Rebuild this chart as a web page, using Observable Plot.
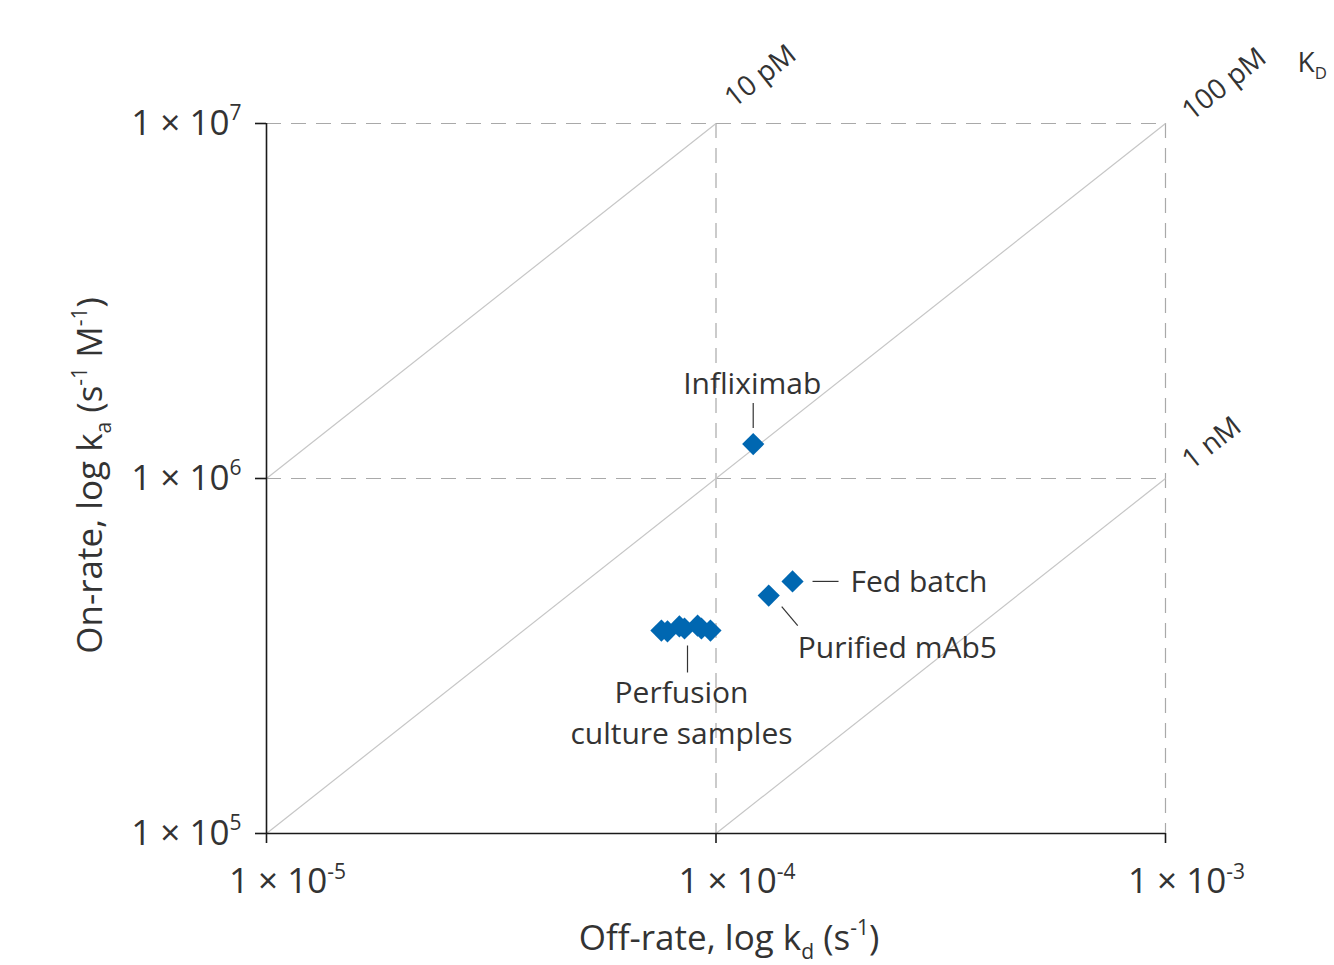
<!DOCTYPE html>
<html><head><meta charset="utf-8">
<script src="https://cdn.jsdelivr.net/npm/d3@7"></script>
<script src="https://cdn.jsdelivr.net/npm/@observablehq/plot@0.6"></script>
<style>body{margin:0;background:#fff;}</style>
</head><body><div id="chart"></div>
<script>
// ---- data ----
const xTicks = [1e-5, 1e-4, 1e-3];
const yTicks = [1e5, 1e6, 1e7];
const xTickLabels = ["1 × 10^{-5}", "1 × 10^{-4}", "1 × 10^{-3}"];
const yTickLabels = ["1 × 10^{5}", "1 × 10^{6}", "1 × 10^{7}"];
const kdValues = [1e-11, 1e-10, 1e-9];
const kdLabels = ["10 pM", "100 pM", "1 nM"];
const sampleNames = ["Infliximab", "Fed batch", "Purified mAb5", "Perfusion", "Perfusion", "Perfusion", "Perfusion", "Perfusion", "Perfusion", "Perfusion"];
const offRates = [1.21e-4, 1.48e-4, 1.31e-4, 7.56e-5, 7.80e-5, 8.29e-5, 8.51e-5, 9.10e-5, 9.28e-5, 9.72e-5];
const onRates  = [1.25e6, 5.13e5, 4.68e5, 3.73e5, 3.71e5, 3.83e5, 3.78e5, 3.85e5, 3.78e5, 3.73e5];
const annotationTexts = ["Infliximab", "Fed batch", "Purified mAb5", "Perfusion\nculture samples"];
const annotationPoint = [0, 1, 2, 6];
const xLabel = "Off-rate, log k_{d} (s^{-1})";
const yLabel = "On-rate, log k_{a} (s^{-1} M^{-1})";
const kdTitle = "K_{D}";

// ---- layout / style ----
const W = 1334, H = 965, mL = 266, mR = 169, mT = 123, mB = 132;
const ink = "#333333";
const blue = "#0067b1";
const xs = Plot.scale({x: {type: "log", domain: [1e-5, 1e-3], range: [mL, W - mR]}});
const ys = Plot.scale({y: {type: "log", domain: [1e5, 1e7], range: [H - mB, mT]}});

// iso-affinity line segments clipped to the domain
const segs = kdValues.map((K, i) => {
  const kd1 = Math.max(1e-5, 1e5 * K), kd2 = Math.min(1e-3, 1e7 * K);
  return {K, label: kdLabels[i], kd1, ka1: kd1 / K, kd2, ka2: kd2 / K};
});

const annoStyle = [
  {dx: -1, dy: -63, anchor: "middle", lead: [[0, -16], [0, -41]]},
  {dx: 58, dy: -2, anchor: "start", lead: [[20, 0], [46, 0]]},
  {dx: 29, dy: 49, anchor: "start", lead: [[13, 11], [29, 30]]},
  {dx: -3, dy: 82, anchor: "middle", lead: [[3, 17], [3, 44]]}
];
const annos = annotationTexts.map((t, k) => ({t, i: annotationPoint[k], ...annoStyle[k]}));
const px = (v, d) => xs.invert(xs.apply(v) + d);
const py = (v, d) => ys.invert(ys.apply(v) + d);

const kdLabelOffsets = [[18, -15], [26, -2], [26, -8]];
const slope = -Math.atan((ys.apply(1e5) - ys.apply(1e6)) / (xs.apply(1e-4) - xs.apply(1e-5))) * 180 / Math.PI;

const chart = Plot.plot({
  width: W, height: H,
  marginLeft: mL, marginRight: mR, marginTop: mT, marginBottom: mB,
  x: {type: "log", domain: [1e-5, 1e-3]},
  y: {type: "log", domain: [1e5, 1e7]},
  style: {fontFamily: "'Open Sans', sans-serif", fontSize: "30px", color: ink, background: "#fff", overflow: "visible"},
  marks: [
    Plot.ruleX([1e-4, 1e-3], {stroke: "#a9a9a9", strokeWidth: 1.2, strokeDasharray: "15,10"}),
    Plot.ruleY([1e6, 1e7], {stroke: "#a9a9a9", strokeWidth: 1.2, strokeDasharray: "15,10"}),
    Plot.link(segs, {x1: "kd1", y1: "ka1", x2: "kd2", y2: "ka2", stroke: "#c6c6c6", strokeWidth: 1.2}),
    Plot.ruleX([1e-5], {stroke: "#1a1a1a", strokeWidth: 1.6}),
    Plot.ruleY([1e5], {stroke: "#1a1a1a", strokeWidth: 1.6}),
    Plot.axisX({ticks: xTicks, tickSize: 10, tickPadding: 25, fontSize: 35, stroke: "#1a1a1a", strokeWidth: 1.6, fill: ink,
      tickFormat: d => xTickLabels[xTicks.indexOf(d)], label: null}),
    Plot.axisY({ticks: yTicks, tickSize: 11, tickPadding: 14, fontSize: 35, stroke: "#1a1a1a", strokeWidth: 1.6, fill: ink,
      tickFormat: d => yTickLabels[yTicks.indexOf(d)], label: null}),
    Plot.text([xLabel], {frameAnchor: "bottom", text: d => d, textAnchor: "middle", dx: 13, dy: 116, lineAnchor: "bottom", fontSize: 35, fill: ink}),
    Plot.text([yLabel], {frameAnchor: "left", text: d => d, textAnchor: "middle", rotate: -90, dx: -165, dy: -3, lineAnchor: "bottom", fontSize: 35, fill: ink}),
    ...segs.map((s, k) => Plot.text([s], {x: "kd2", y: "ka2", text: "label", rotate: slope, textAnchor: "start", lineAnchor: "bottom",
      dx: kdLabelOffsets[k][0], dy: kdLabelOffsets[k][1], fontSize: 28, fill: ink})),
    Plot.text([segs[1]], {x: "kd2", y: "ka2", text: () => kdTitle, textAnchor: "start", lineAnchor: "bottom", dx: 132, dy: -52, fontSize: 28, fill: ink}),
    Plot.link(annos, {
      x1: a => px(offRates[a.i], a.lead[0][0]), y1: a => py(onRates[a.i], a.lead[0][1]),
      x2: a => px(offRates[a.i], a.lead[1][0]), y2: a => py(onRates[a.i], a.lead[1][1]),
      stroke: ink, strokeWidth: 1.2}),
    ...annos.map(a => Plot.text([a], {x: a => offRates[a.i], y: a => onRates[a.i], text: "t", dx: a.dx, dy: a.dy,
      textAnchor: a.anchor, lineAnchor: "middle", lineHeight: 1.35, fontSize: 30, fill: ink})),
    Plot.dot(sampleNames.map((n, i) => i), {x: i => offRates[i], y: i => onRates[i], symbol: "diamond2", r: 10, fill: blue, stroke: "none"})
  ]
});
document.getElementById("chart").appendChild(chart);

// rich text: ^{sup} and _{sub}
const NS = "http://www.w3.org/2000/svg";
function richify(el) {
  const s = el.textContent;
  if (!/[\^_]\{/.test(s) || el.querySelector("tspan")) return;
  const fs = parseFloat(getComputedStyle(el).fontSize) || 28;
  el.textContent = "";
  const re = /([\^_])\{([^}]*)\}/g;
  let last = 0, m, shift = 0;
  const add = (txt, target, small) => {
    if (!txt) return;
    const t = document.createElementNS(NS, "tspan");
    t.textContent = txt;
    const d = target - shift;
    if (Math.abs(d) > 0.01) t.setAttribute("dy", d.toFixed(2));
    if (small) t.setAttribute("font-size", (fs * 0.6).toFixed(1));
    shift = target;
    el.appendChild(t);
  };
  while ((m = re.exec(s))) {
    add(s.slice(last, m.index), 0, false);
    add(m[2], m[1] === "^" ? -0.42 * fs : 0.28 * fs, true);
    last = re.lastIndex;
  }
  add(s.slice(last), 0, false);
}
chart.querySelectorAll("text").forEach(richify);
chart.querySelectorAll('g[aria-label="x-axis tick label"] text').forEach(t => t.setAttribute("dx", "21"));
</script>
</body></html>
